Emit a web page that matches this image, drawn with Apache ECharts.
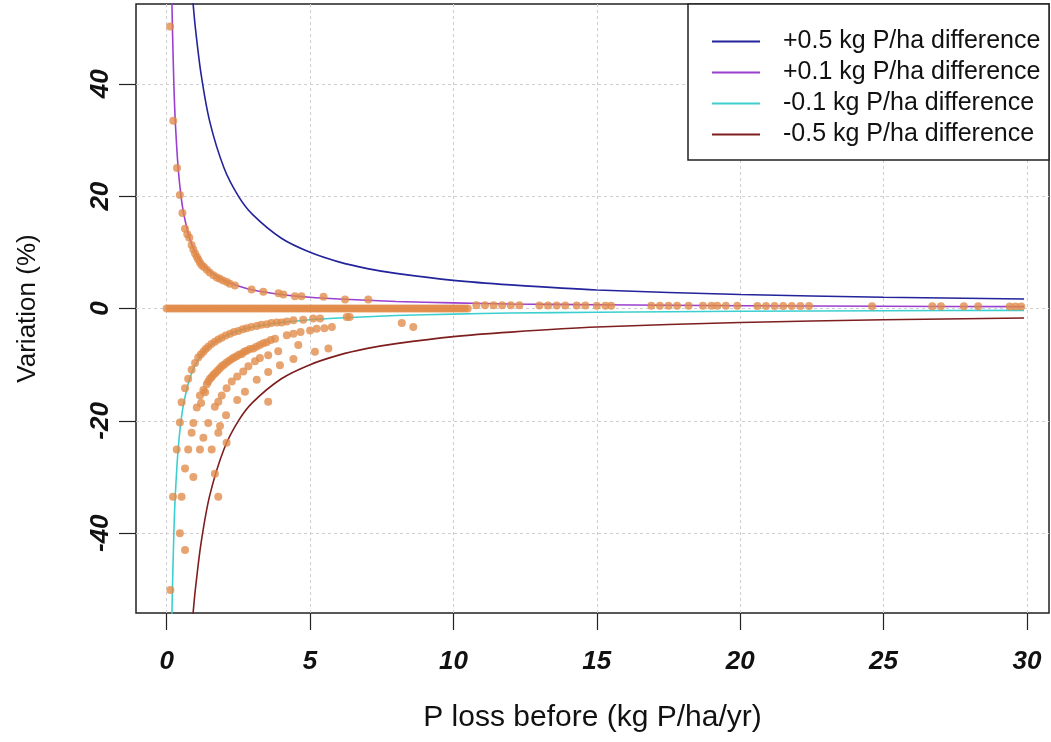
<!DOCTYPE html>
<html><head><meta charset="utf-8">
<script src="https://cdn.jsdelivr.net/npm/echarts@6/dist/echarts.min.js"></script>
<style>html,body{margin:0;padding:0;background:#fff}#c{width:1051px;height:742px}</style>
</head><body><div id="c"></div>
<script>
const xTicks = [0, 5, 10, 15, 20, 25, 30];
const yTicks = [-40, -20, 0, 20, 40];
const lineNames = ['+0.5 kg P/ha difference', '+0.1 kg P/ha difference', '-0.1 kg P/ha difference', '-0.5 kg P/ha difference'];
const lineColors = ['#23239B', '#9B3FCF', '#3CCFCF', '#7E1E1E'];

const linePlus05 = [[0.9,55.5],[1,50],[1.2,41.7],[1.5,33.3],[2,25],[2.5,20],[3,16.7],[4,12.5],[5,10],[6,8.3],[7,7.1],[8,6.25],[10,5],[12,4.2],[15,3.3],[20,2.5],[25,2],[29.9,1.7]];
const linePlus01 = [[0.18,55.5],[0.2,50],[0.25,40],[0.3,33.3],[0.4,25],[0.5,20],[0.6,16.7],[0.8,12.5],[1,10],[1.25,8],[1.5,6.7],[2,5],[2.5,4],[3,3.3],[4,2.5],[5,2],[6,1.7],[8,1.25],[10,1],[12,0.8],[15,0.67],[20,0.5],[25,0.4],[29.9,0.33]];
const lineMinus01 = [[0.18,-55.5],[0.2,-50],[0.25,-40],[0.3,-33.3],[0.4,-25],[0.5,-20],[0.6,-16.7],[0.8,-12.5],[1,-10],[1.25,-8],[1.5,-6.7],[2,-5],[2.5,-4],[3,-3.3],[4,-2.5],[5,-2],[6,-1.7],[8,-1.25],[10,-1],[12,-0.8],[15,-0.67],[20,-0.5],[25,-0.4],[29.9,-0.33]];
const lineMinus05 = [[0.9,-55.5],[1,-50],[1.2,-41.7],[1.5,-33.3],[2,-25],[2.5,-20],[3,-16.7],[4,-12.5],[5,-10],[6,-8.3],[7,-7.1],[8,-6.25],[10,-5],[12,-4.2],[15,-3.3],[20,-2.5],[25,-2],[29.9,-1.7]];

const zeroBandX = [0,0.1,0.2,0.3,0.4,0.5,0.6,0.7,0.8,0.9,1,1.1,1.2,1.3,1.4,1.5,1.6,1.7,1.8,1.9,2,2.1,2.2,2.3,2.4,2.5,2.6,2.7,2.8,2.9,3,3.1,3.2,3.3,3.4,3.5,3.6,3.7,3.8,3.9,4,4.1,4.2,4.3,4.4,4.5,4.6,4.7,4.8,4.9,5,5.1,5.2,5.3,5.4,5.5,5.6,5.7,5.8,5.9,6,6.1,6.2,6.3,6.4,6.5,6.6,6.7,6.8,6.9,7,7.1,7.2,7.3,7.4,7.5,7.6,7.7,7.8,7.9,8,8.1,8.2,8.3,8.4,8.5,8.6,8.7,8.8,8.9,9,9.1,9.2,9.3,9.4,9.5,9.6,9.7,9.8,9.9,10,10.1,10.2,10.3,10.4,10.5];
const nearZeroPts = [[10.8,0.6],[11.1,0.6],[11.4,0.6],[11.7,0.6],[12.0,0.6],[12.3,0.6],[13.0,0.55],[13.3,0.55],[13.6,0.55],[13.9,0.55],[14.3,0.55],[14.6,0.55],[15.0,0.5],[15.3,0.5],[15.5,0.5],[16.9,0.5],[17.2,0.5],[17.5,0.5],[17.8,0.5],[18.2,0.5],[18.7,0.5],[19.0,0.5],[19.2,0.5],[19.5,0.5],[19.9,0.5],[20.6,0.45],[20.9,0.45],[21.2,0.45],[21.5,0.45],[21.8,0.45],[22.1,0.45],[22.4,0.45],[24.6,0.4],[26.7,0.4],[27.0,0.4],[27.8,0.4],[28.3,0.4],[29.4,0.35],[29.6,0.35],[29.8,0.35]];
const plusPts = [[0.12,50.2],[0.23,33.4],[0.36,25.0],[0.46,20.2],[0.55,17.0],[0.64,14.2],[0.72,13.2],[0.79,12.6],[0.87,11.3],[0.93,10.5],[0.99,9.8],[1.05,9.2],[1.1,8.7],[1.16,8.2],[1.22,7.7],[1.3,7.4],[1.4,6.9],[1.5,6.4],[1.63,5.9],[1.75,5.5],[1.85,5.3],[1.97,5.0],[2.1,4.7],[2.2,4.4],[2.38,4.1],[2.96,3.4],[3.37,3.0],[3.9,2.7],[4.07,2.5],[4.47,2.2],[4.7,2.2],[5.47,2.1],[6.22,1.6],[7.03,1.6]];
const minusPts = [
 [0.13,-50.1],[0.22,-33.5],[0.35,-25.1],[0.46,-20.3],[0.52,-16.7],[0.64,-14.2],[0.75,-12.5],[0.87,-10.9],[0.99,-9.7],[1.1,-8.7],[1.19,-8.2],[1.28,-7.7],[1.36,-7.2],[1.45,-6.8],[1.56,-6.3],[1.68,-5.9],[1.8,-5.5],[1.92,-5.2],[2.06,-4.8],[2.21,-4.5],[2.35,-4.2],[2.5,-4.0],[2.65,-3.7],[2.79,-3.5],[2.95,-3.3],[3.14,-3.1],[3.3,-2.9],[3.49,-2.8],[3.65,-2.6],[3.84,-2.5],[4.01,-2.5],[4.19,-2.3],[4.42,-2.1],[4.76,-2.0],[5.11,-1.8],[5.35,-1.8],[6.28,-1.5],[6.38,-1.5],
 [8.2,-2.6],[8.6,-3.3],
 [0.93,-20.4],[1.05,-17.6],[1.16,-15.5],[1.2,-16.8],[1.28,-14.5],[1.34,-14.9],[1.4,-13.5],[1.45,-13.0],[1.51,-12.5],[1.57,-12.2],[1.63,-11.8],[1.7,-11.5],[1.77,-11.1],[1.85,-10.7],[1.92,-10.3],[2.0,-10.0],[2.09,-9.6],[2.18,-9.3],[2.27,-9.0],[2.35,-8.7],[2.44,-8.5],[2.53,-8.2],[2.62,-8.1],[2.7,-7.7],[2.79,-7.5],[2.9,-7.2],[3.02,-7.1],[3.13,-6.8],[3.25,-6.5],[3.37,-6.2],[3.49,-6.0],[3.63,-5.6],[3.78,-5.4],[4.19,-4.75],[4.42,-4.5],[4.67,-4.2],[5.0,-3.9],[5.23,-3.6],[5.5,-3.5],[5.76,-3.3],
 [0.93,-30.0],[1.16,-25.1],[1.28,-23.0],[1.45,-20.4],[1.68,-17.5],[1.8,-16.6],[1.92,-15.5],[2.09,-14.2],[2.27,-13.0],[2.46,-12.1],[2.67,-11.2],[2.85,-10.3],[3.08,-9.4],[3.25,-8.8],[3.54,-8.3],[3.89,-7.6],[4.59,-6.5],
 [1.57,-25.1],[1.8,-22.1],[1.86,-20.9],[2.07,-19.0],[2.46,-16.3],[2.73,-14.8],[3.14,-12.7],[3.54,-11.3],[3.95,-10.1],[4.42,-9.0],[5.17,-7.7],[5.64,-7.1],
 [1.68,-29.4],[2.09,-23.9],[1.8,-33.5],[3.54,-16.6],
 [0.87,-22.1],[0.75,-25.1],[0.64,-28.5],[0.52,-33.5],[0.46,-40.0],[0.64,-43.0]
];

const points = zeroBandX.map(x => [x, 0]).concat(nearZeroPts, plusPts, minusPts);
const lineData = [linePlus05, linePlus01, lineMinus01, lineMinus05];

const font = 'Liberation Sans, Arial, sans-serif';
const chart = echarts.init(document.getElementById('c'));
chart.setOption({
  animation: false,
  backgroundColor: '#fff',
  grid: { left: 136, right: 2, top: 4, bottom: 129, show: true, borderColor: '#222', borderWidth: 1.5, backgroundColor: 'transparent' },
  xAxis: {
    type: 'value', min: -1.07, max: 30.77,
    name: 'P loss before (kg P/ha/yr)', nameLocation: 'middle', nameGap: 90,
    nameTextStyle: { fontFamily: font, fontSize: 30, color: '#111' },
    axisLine: { show: false, onZero: false },
    axisTick: { show: true, length: 17, inside: false, customValues: xTicks, lineStyle: { color: '#222', width: 1.2 } },
    axisLabel: { customValues: xTicks, margin: 36, fontFamily: font, fontSize: 26, fontStyle: 'italic', fontWeight: 'bold', color: '#111' },
    splitLine: { show: true, lineStyle: { color: '#cfcfcf', type: [3, 3], width: 1 } }
  },
  yAxis: {
    type: 'value', min: -54.2, max: 54.2,
    name: 'Variation (%)', nameLocation: 'middle', nameGap: 95,
    nameTextStyle: { fontFamily: font, fontSize: 26, color: '#111' },
    axisLine: { show: false, onZero: false },
    axisTick: { show: true, length: 17, inside: false, customValues: yTicks, lineStyle: { color: '#222', width: 1.2 } },
    axisLabel: { customValues: yTicks, rotate: 90, margin: 22, fontFamily: font, fontSize: 26, fontStyle: 'italic', fontWeight: 'bold', color: '#111' },
    splitLine: { show: true, lineStyle: { color: '#cfcfcf', type: [3, 3], width: 1 } }
  },
  legend: {
    data: lineNames, orient: 'vertical', left: 707, top: 24, itemGap: 6,
    icon: 'rect', itemWidth: 48, itemHeight: 2, z: 20,
    textStyle: { fontFamily: font, fontSize: 25, lineHeight: 24, color: '#111', padding: [0, 0, 0, 18] }
  },
  graphic: [{ type: 'rect', z: 10, shape: { x: 688, y: 4, width: 361, height: 156 }, style: { fill: '#fff', stroke: '#222', lineWidth: 1.5 } }],
  series: [
    { type: 'scatter', data: points, symbolSize: 8, z: 3, itemStyle: { color: '#E08A48', opacity: 0.78 }, silent: true }
  ].concat(lineData.map((d, i) => ({
    type: 'line', name: lineNames[i], data: d, smooth: 0.3, symbol: 'none', z: 2,
    lineStyle: { color: lineColors[i], width: 1.6 }, itemStyle: { color: lineColors[i] }
  })))
});
</script></body></html>
